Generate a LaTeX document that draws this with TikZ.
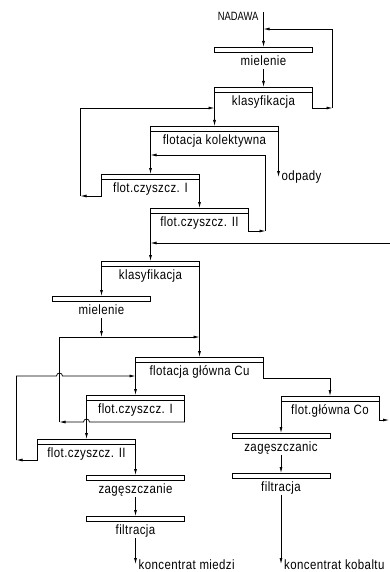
\documentclass[tikz,border=0pt]{standalone}
\usepackage{fontspec}
\setmainfont{Liberation Sans}[FakeStretch=0.85, LetterSpace=3]
\newfontfamily\narrowfont{Liberation Sans}[FakeStretch=0.78]
\usepackage{tikz}
\usetikzlibrary{arrows.meta, positioning}

\begin{document}
\begin{tikzpicture}[x=1pt, y=-1pt,
        bar/.style={draw, fill=white, line width=0.85pt, minimum width=98pt, minimum height=5pt, inner sep=0pt, outer sep=0pt},
        widebar/.style={bar, minimum width=128pt},
        txt/.style={inner sep=1pt, text height=10pt, text depth=3pt, font=\fontsize{13.5}{15}\selectfont},
        flow/.style={line width=0.75pt, -{Latex[length=6pt, width=3pt]}}
    ]
    \useasboundingbox (0,0) rectangle (390,572);

        \coordinate (feed) at (263.5,12);
        \node[txt, font={\fontsize{12}{14}\narrowfont}, anchor=east] (nadawa) at ([xshift=-4pt, yshift=-5.5pt]feed) {NADAWA};

        \node[bar, below=35pt of feed] (mil1) {};
        \node[txt, below=2pt of mil1] (mil1t) {mielenie};
        \node[bar, below=35pt of mil1] (kla1) {};
        \node[txt, below=2pt of kla1] (kla1t) {klasyfikacja};
        \node[widebar, below=34pt of kla1.south west] (flk) {};
        \node[txt, below=2pt of flk] (flkt) {flotacja kolektywna};
        \node[bar, below=43pt of flk.south west] (fc1a) {};
        \node[txt, below=2pt of fc1a] (fc1at) {flot.czyszcz. I};
        \node[bar, below=29pt of fc1a.south east] (fc2a) {};
        \node[txt, below=2pt of fc2a] (fc2at) {flot.czyszcz. II};
        \node[bar, below=48pt of fc2a.south west] (kla2) {};
        \node[txt, below=2pt of kla2] (kla2t) {klasyfikacja};
        \node[bar, below=30pt of kla2.south west] (mil2) {};
        \node[txt, below=2pt of mil2] (mil2t) {mielenie};
        \node[widebar, below=91pt of kla2.south east] (fcu) {};
        \node[txt, below=2pt of fcu] (fcut) {flotacja główna Cu};
        \node[bar, below=33pt of fcu.south west] (fc1b) {};
        \node[txt, below=2pt of fc1b] (fc1bt) {flot.czyszcz. I};
        \node[bar, below=39pt of fc1b.south west] (fc2b) {};
        \node[txt, below=2pt of fc2b] (fc2bt) {flot.czyszcz. II};
        \node[bar, below=31pt of fc2b.south east] (zag1) {};
        \node[txt, below=2pt of zag1] (zag1t) {zagęszczanie};
        \node[bar, below=36pt of zag1] (fil1) {};
        \node[txt, below=2pt of fil1] (fil1t) {filtracja};
        \node[bar, below=34pt of fcu.south east, xshift=66.5pt] (fco) {};
        \node[txt, below=2pt of fco] (fcot) {flot.główna Co};
        \node[bar, below=32pt of fco.south west] (zag2) {};
        \node[txt, below=2pt of zag2] (zag2t) {zagęszczanic};
        \node[bar, below=35pt of zag2] (fil2) {};
        \node[txt, below=2pt of fil2] (fil2t) {filtracja};

        \coordinate (r1) at ([xshift=20pt, yshift=-16pt]kla1.south east);
        \coordinate (r2) at ([yshift=-17pt]feed);
        \coordinate (j1) at ([yshift=-16pt]kla1.south west);
        \coordinate (l1) at ([xshift=-21pt, yshift=-17pt]fc1a.south west);
        \coordinate (odp) at ([yshift=-46pt]flk.south east);
        \coordinate (l2) at ([xshift=17pt, yshift=-18pt]fc2a.south east);
        \coordinate (j2) at ([yshift=-24pt]flk.south west);
        \coordinate (j3) at ([yshift=-30pt]fc2a.south west);
        \coordinate (e1) at (390,243);
        \coordinate (j4) at ([yshift=-36pt]mil2.south);
        \coordinate (l3) at ([yshift=-22pt]fc1b.south east);
        \coordinate (l4) at ([xshift=-42pt]j4);
        \coordinate (h1) at (l3 -| fc1b.south west);
        \coordinate (l6) at ([xshift=-21pt, yshift=-16pt]fc2b.south west);
        \coordinate (j5) at ([yshift=-14pt]fcu.south west);
        \coordinate (h2) at (j5 -| l4);
        \coordinate (j6) at ([yshift=-16pt]fcu.south east);
        \coordinate (e2) at ([xshift=10pt, yshift=-19pt]fco.south east);
        \coordinate (out1) at ([yshift=-43pt]fil1.south);
        \coordinate (out2) at ([yshift=-86pt]fil2.south);

        \draw[flow] (feed) -- (mil1);
        \draw[flow] (mil1t) -- (kla1);
        \draw[flow] (kla1.south east) |- (r1);
        \draw[flow] (r1) |- (r2);
        \draw[flow] (kla1.south west) -- (flk);
        \draw[flow] (fc1a.south west) |- (l1);
        \draw[flow] (l1) |- (j1);
        \draw[flow] (flk.south east) -- (odp);
        \node[txt, anchor=west] (odpt) at ([xshift=2pt]odp) {odpady};
        \draw[flow] (flk.south west) -- (fc1a);
        \draw[flow] (fc1a.south east) -- (fc2a);
        \draw[flow] (fc2a.south east) |- (l2);
        \draw[flow] (l2) |- (j2);
        \draw[flow] (fc2a.south west) -- (kla2);
        \draw[flow] (e1) -- (j3);

        \draw[flow] (kla2.south west) -- (mil2);
        \draw[flow] (kla2.south east) -- (fcu);
        \draw[flow] (mil2t) -- (j4);
        \draw[flow] (fc1b.south east) -- (l3) -- ([xshift=3pt]h1) arc[start angle=0, end angle=180, radius=3pt] -- (l3 -| l4);
        \draw[flow] (l3 -| l4) |- (kla2.south east |- l4);
        \draw[flow] (fcu.south west) -- (fc1b);
        \draw[flow] (fc1b.south west) -- (fc2b);
        \draw[flow] (fc2b.south west) |- (l6);
        \draw[flow] (l6) |- ([xshift=-3pt]h2) arc[start angle=180, end angle=0, radius=3pt] -- (j5);
        \draw[flow] (fc2b.south east) -- (zag1);
        \draw[flow] (zag1t) -- (fil1);
        \draw[flow] (fil1t) -- (out1);
        \node[txt, anchor=west] (out1t) at ([xshift=2pt, yshift=-2pt]out1) {koncentrat miedzi};

        \draw[flow] (fcu.south east) -- (j6) -| (fco.north);
        \draw[flow] (fco.south east) |- (e2);
        \draw[flow] (fco.south west) -- (zag2);
        \draw[flow] (zag2t) -- (fil2);
        \draw[flow] (fil2t) -- (out2);
        \node[txt, anchor=west] (out2t) at ([xshift=2pt, yshift=-2pt]out2) {koncentrat kobaltu};
    \end{tikzpicture}
\end{document}
